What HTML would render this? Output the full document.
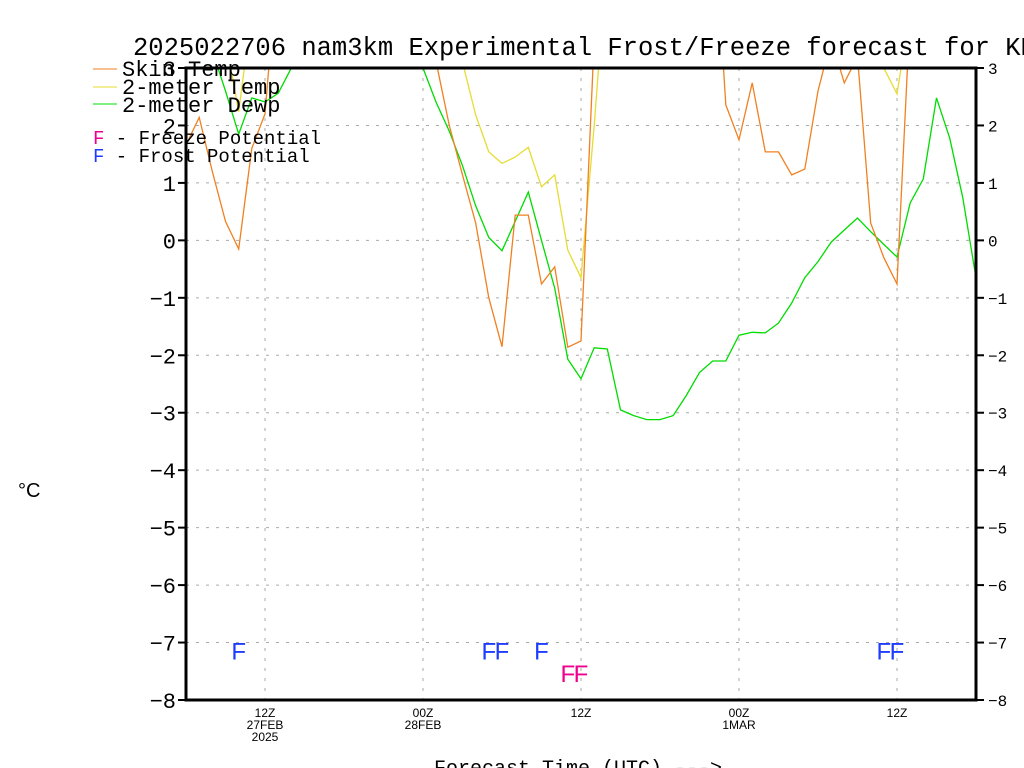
<!DOCTYPE html>
<html><head><meta charset="utf-8"><style>
html,body{margin:0;padding:0;background:#fff;}
svg{display:block;font-family:"Liberation Sans",sans-serif;}
.mono{font-family:"Liberation Mono",monospace;}
</style></head><body>
<svg id="chart" width="1024" height="768" viewBox="0 0 1024 768">
<defs><clipPath id="plotclip"><rect x="186" y="68" width="790" height="632"/></clipPath></defs>
<text class="mono" x="133" y="55" font-size="25.5" fill="#000">2025022706 nam3km Experimental Frost/Freeze forecast for KRDG</text>
<g id="grid"></g>
<g id="series" clip-path="url(#plotclip)"></g>
<g id="markers"></g>
<rect x="186" y="68" width="790" height="632" fill="none" stroke="#000" stroke-width="3"/>
<g id="axes"></g>
<text x="18" y="497" font-size="20">°C</text>
<text class="mono" x="434" y="774" font-size="20">Forecast Time (UTC) ---&gt;</text>
<g class="mono">
<line x1="93" y1="69" x2="117" y2="69" stroke="#f08020"/>
<text x="122" y="76" font-size="22">Skin Temp</text>
<line x1="93" y1="87" x2="117" y2="87" stroke="#e6dc32"/>
<text x="122" y="94" font-size="22">2-meter Temp</text>
<line x1="93" y1="104" x2="117" y2="104" stroke="#00dc00"/>
<text x="122" y="112" font-size="22">2-meter Dewp</text>
<text x="93" y="144" font-size="19"><tspan fill="#f0008c">F</tspan> - Freeze Potential</text>
<text x="93" y="162" font-size="19"><tspan fill="#1e3cff">F</tspan> - Frost Potential</text>
</g>
</svg>
<script>
const hours = [0,1,2,3,4,5,6,7,8,9,10,11,12,13,14,15,16,17,18,19,20,21,22,23,24,25,26,27,28,29,30,31,32,33,34,35,36,37,38,39,40,41,42,43,44,45,46,47,48,49,50,51,52,53,54,55,56,57,58,59,60];
const skinTemp = [1.66,2.14,1.2,0.33,-0.15,1.6,2.2,5,5,5,5,5,5,5,5,5,5,5,5,3.1,2.0,1.14,0.3,-1.0,-1.85,0.44,0.44,-0.76,-0.46,-1.86,-1.75,3.5,5,5,5,5,5,5,5,5,6,2.36,1.75,2.74,1.54,1.54,1.14,1.24,2.6,3.5,2.74,3.2,0.3,-0.3,-0.76,4,5,5,5,5,5];
const temp2m = [5,5,5,3.5,2.24,4,5,5,5,5,5,5,5,5,5,5,5,5,5,5,5,3.1,2.18,1.54,1.34,1.45,1.62,0.93,1.14,-0.17,-0.65,2.0,5,5,5,5,5,5,5,5,5,5,5,5,5,5,5,5,5,5,5,5,5,3.0,2.55,4,5,5,5,5,5];
const dewp2m = [5,5,3.3,2.6,1.85,2.48,2.41,2.56,3.0,5,5,5,5,5,5,5,5,5,3.0,2.4,1.9,1.3,0.6,0.05,-0.18,0.33,0.84,0.0,-0.83,-2.07,-2.41,-1.87,-1.89,-2.95,-3.05,-3.12,-3.12,-3.05,-2.7,-2.3,-2.1,-2.1,-1.65,-1.6,-1.61,-1.44,-1.09,-0.65,-0.37,-0.03,0.18,0.39,0.15,-0.07,-0.29,0.65,1.07,2.48,1.78,0.74,-0.65];
const frostHours = [4,23,24,27,53,54];
const freezeHours = [29,30];
const yTicks = [3,2,1,0,-1,-2,-3,-4,-5,-6,-7,-8];
const xTickHours = [6,18,30,42,54];
const xTickLabels = [["12Z","27FEB","2025"],["00Z","28FEB"],["12Z"],["00Z","1MAR"],["12Z"]];

const NS="http://www.w3.org/2000/svg";
const X0=186,X1=976,Y0=68,Y1=700,HMAX=60,VMAX=3,VMIN=-8;
const xs=h=>X0+(h/HMAX)*(X1-X0);
const ys=v=>Y0+(VMAX-v)/(VMAX-VMIN)*(Y1-Y0);
function mk(tag,attrs,parent){const e=document.createElementNS(NS,tag);for(const k in attrs)e.setAttribute(k,attrs[k]);parent.appendChild(e);return e;}
const grid=document.getElementById('grid'),axes=document.getElementById('axes'),series=document.getElementById('series'),markers=document.getElementById('markers');
yTicks.forEach(v=>{
  const y=ys(v);
  const g=mk('line',{x1:X0,x2:X1,y1:y,y2:y,stroke:'#aaa','stroke-dasharray':'3,7'},grid);
  
  
  const t1=mk('line',{x1:X0-8,x2:X0,y1:y,y2:y,stroke:'#000','stroke-width':2},axes);
  
  
  const t2=mk('line',{x1:X1,x2:X1+8,y1:y,y2:y,stroke:'#000','stroke-width':2},axes);
  
  
  const lbl=mk('text',{x:X0-10,y:y+8,'font-size':22,'text-anchor':'end','class':'mono'},axes);
  lbl.textContent=String(v).replace('-','−');
  
  
  const lr=mk('text',{x:X1+12,y:y+6,'font-size':16,'class':'mono'},axes);
  lr.textContent=String(v).replace('-','−');
  
  
});
xTickHours.forEach((h,i)=>{
  const x=xs(h);
  const g=mk('line',{x1:x,x2:x,y1:Y0,y2:Y1,stroke:'#aaa','stroke-dasharray':'3,7'},grid);
  
  
  xTickLabels[i].forEach((s,j)=>{
    const t=mk('text',{x:x,y:Y1+17+j*12,'font-size':12,'text-anchor':'middle'},axes);
    t.textContent=s;
    
    
  });
});
function line(vals,color,name){
  const pts=hours.map((h,i)=>xs(h).toFixed(1)+','+ys(vals[i]).toFixed(1)).join(' ');
  const p=mk('polyline',{points:pts,fill:'none',stroke:color,'stroke-width':1.3},series);
  
  
}
line(temp2m,'#e6dc32','series-2m-temp');
line(dewp2m,'#00dc00','series-2m-dewp');
line(skinTemp,'#f08020','series-skin-temp');
frostHours.forEach(h=>{
  const t=mk('text',{x:xs(h),y:ys(-7.14)+9,'font-size':24,'text-anchor':'middle',fill:'#1e3cff'},markers);
  t.textContent='F';
  
  
});
freezeHours.forEach(h=>{
  const t=mk('text',{x:xs(h),y:ys(-7.53)+9,'font-size':24,'text-anchor':'middle',fill:'#f0008c'},markers);
  t.textContent='F';
  
  
});
</script>
</body></html>
